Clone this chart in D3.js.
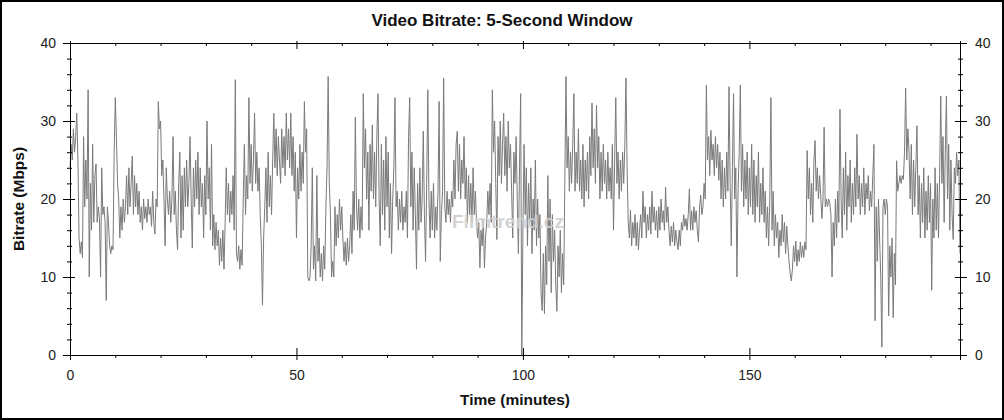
<!DOCTYPE html>
<html>
<head>
<meta charset="utf-8">
<script src="https://cdn.jsdelivr.net/npm/d3@7/dist/d3.min.js"></script>
<style>
  html, body { margin: 0; padding: 0; background: #fff; }
  svg { display: block; }
  text { font-family: Arial, "Liberation Sans", sans-serif; }
</style>
</head>
<body>
<svg id="chart" width="1004" height="420"></svg>
<script>
// ---- data ----
const chartTitle = "Video Bitrate: 5-Second Window";
const xLabel = "Time (minutes)";
const yLabel = "Bitrate (Mbps)";
const timeStepMin = 0.25;         // sample spacing in minutes
const xMaxMin = 196.5;            // end of the time axis
const xTickValues = [0, 50, 100, 150];
const yTickValues = [0, 10, 20, 30, 40];
// bitrate (Mbps) per quarter-minute sample (one row = 5 minutes)
const bitrate = [
  24, 27, 25, 29, 26, 28, 31, 25, 15, 13, 14.5, 12.5, 28, 19, 25, 20, 34, 10, 22, 16,
  27, 17, 23, 24.5, 17, 19, 17.5, 10, 24, 18, 19, 17, 7, 19, 17, 14, 13, 14, 13.5, 26,
  33, 28, 22, 20, 15, 19, 16, 20, 17, 19, 23, 18, 24, 19, 22, 25.5, 18, 23, 19, 22,
  18, 21, 17, 19, 16, 20, 17.5, 19, 17, 20, 18, 19, 16.5, 21, 17, 15.5, 20, 19, 32.5, 29,
  30, 23, 25, 20, 14, 24, 20, 18, 21, 17, 20, 28, 18, 21, 16, 13.5, 22, 26, 15, 23,
  16, 24, 19, 25, 19, 22, 28, 20, 13.7, 24, 19, 25, 20, 26, 18, 24, 19, 22, 15, 23,
  18, 30, 20, 24, 16, 27, 14, 18, 13.5, 17, 14, 16, 11.5, 15, 12, 16, 11, 17, 24, 18,
  22, 17, 21, 18, 23, 16, 35.3, 13, 12, 14, 11, 13.5, 11.5, 20, 27, 18, 23, 20, 33, 22,
  27, 21, 25, 31, 22, 26, 21, 24, 18, 14, 6.4, 15, 19, 24, 17, 26, 19, 23, 18, 25,
  31, 24, 29, 23, 28, 25, 22, 29, 24, 28, 23, 31, 25, 29, 24, 31, 23, 28, 21, 26,
  15, 24, 20, 27, 21, 26, 22, 32.5, 26, 29, 10, 9.5, 10, 14, 24, 11, 14, 9.5, 23, 12,
  15, 10, 13, 9.5, 14, 11, 19, 24, 35.7, 22, 18, 10, 12, 10, 19, 14, 18, 15, 20, 16,
  19, 15, 12, 14.5, 11.5, 15, 12, 14, 18, 13, 21, 16, 30.5, 19, 16, 20, 15, 19, 16, 33.5,
  24, 29, 20, 26, 16, 27, 21, 29.5, 20, 26, 19, 28, 33.5, 20, 14, 27, 18, 25, 16, 28,
  19, 26, 15, 22, 13, 20, 24, 33, 19, 21, 16, 20, 17, 21, 16, 19, 17, 21, 15, 28,
  33, 19, 26, 16, 24, 18, 11, 22, 16, 24, 17, 20, 28.7, 18, 12, 22, 34, 20, 15, 21,
  16, 22, 15, 19, 16, 21, 32.5, 12, 18, 21, 35.5, 19, 17, 21, 18, 20, 17, 21, 19, 25,
  20, 27, 28.7, 21, 27, 20, 25, 22, 28, 20, 24, 17, 23, 18, 22, 17, 24, 18, 21, 17,
  15, 17, 11.2, 16, 14, 17.4, 11.2, 15, 17, 21, 18, 22, 17, 34, 26, 30, 22, 14.8, 28, 23,
  30, 22, 27, 31, 23, 28, 21, 30, 24, 27, 21, 15, 26, 22, 28, 20, 13, 24, 33.5, 0,
  16, 27, 18, 24, 14, 22, 17, 24, 13, 20, 16, 25, 14, 20, 15, 18, 8, 5.7, 13, 5.3,
  14, 9, 23, 12, 20, 8, 18, 12, 16, 9, 5.6, 14, 10, 16, 8, 13, 9, 22, 35.7, 24,
  28, 21, 26, 22, 27, 33.5, 21, 26, 22, 29, 21, 25, 20, 27, 19, 25, 21, 26, 20, 28,
  23, 32.3, 24, 29, 22, 32, 24, 28, 20, 26, 21, 27, 22, 25, 20, 26, 21, 24, 20, 27,
  16, 25, 33, 22, 26, 20, 25, 21, 26, 22, 27, 35.5, 24, 17, 15, 18.6, 14, 17, 15, 18,
  14, 17, 13.5, 16, 18, 15, 21, 17, 19, 15, 18, 16, 19, 15.5, 21, 17, 19, 16, 18.5, 15,
  19, 16, 20, 17, 18.5, 16, 21.5, 17, 19, 16, 14, 16.5, 14.5, 17, 14, 16, 14.5, 13.5, 16, 14,
  17, 16, 18, 16.5, 17.5, 16, 18, 21.3, 16, 18.5, 16, 19, 17, 18.5, 16, 14.5, 19, 20.5, 18, 19,
  22, 20, 34.6, 25, 28, 23, 28.8, 25, 27, 23, 28, 24, 27, 22.4, 26, 20, 25, 19, 24, 20,
  26, 21, 34.4, 22, 14, 24, 33.5, 20, 24, 10, 21, 26, 34.6, 21, 27, 19, 25, 20, 26, 18,
  24, 19, 27, 18, 25, 17, 23, 19, 26, 17, 22, 18, 24, 17, 21, 15, 19, 14, 20, 33,
  16, 21, 14, 18, 15, 17, 12.5, 16, 14, 18, 14.5, 17, 13, 16.5, 14, 12, 10.5, 9.5, 11, 14,
  12, 14.6, 11.4, 13.5, 12, 14.5, 12.5, 14, 12.5, 14.5, 13.5, 26.2, 20, 24, 18, 22, 17, 25, 27.5, 21,
  24, 20, 23, 20.5, 17.5, 20, 29.2, 19, 20, 19, 20, 19.5, 18, 10, 17, 14, 20, 15, 21, 17,
  31.5, 20, 15, 24, 18, 26, 16, 23, 19, 25, 17, 22, 18, 24, 19, 28.3, 20, 23, 18, 22,
  19, 24, 18, 22, 20, 23, 18.5, 21, 19, 23, 27, 4.4, 19, 12, 20, 15, 10, 1, 19, 20,
  18, 20, 19, 5, 14, 10, 15, 4.8, 13, 9, 24.9, 21, 22, 23, 22, 23, 22.5, 26, 34.2, 25,
  29, 26, 20, 27, 18, 25, 19, 24, 29.4, 18, 23, 15, 22, 17, 24, 15, 21, 16, 23, 17,
  22, 8.3, 20, 15, 24, 16, 22, 15, 23, 33.2, 22, 28, 17, 26, 33.2, 20, 27, 16, 25, 18,
  14.8, 24, 22, 26, 23, 25, 13
];
const watermarkText = "Filmtrend.cz";

// ---- chart ----
const W = 1004, H = 420;
const svg = d3.select("#chart");
const plotLeft = 70, plotRight = 960, plotTop = 43, plotBottom = 355;

const x = d3.scaleLinear().domain([0, xMaxMin]).range([plotLeft, plotRight]);
const y = d3.scaleLinear().domain([0, 40]).range([plotBottom, plotTop]);

const series = bitrate.map((v, i) => ({ t: i * timeStepMin, v }));

// outer frame
svg.append("rect").attr("x", 1).attr("y", 1).attr("width", W - 2).attr("height", H - 2)
  .attr("fill", "#fff").attr("stroke", "#000").attr("stroke-width", 2);

// data line
const line = d3.line().x(d => x(d.t)).y(d => y(d.v));
svg.append("path").datum(series)
  .attr("d", line)
  .attr("fill", "none")
  .attr("stroke", "#7a7a7a")
  .attr("stroke-width", 1)
  .attr("stroke-linejoin", "miter");

// watermark
svg.append("text").attr("x", 452).attr("y", 228)
  .attr("font-size", 19).attr("font-weight", "bold")
  .attr("fill", "#cfcfcf").attr("opacity", 0.9)
  .text(watermarkText);

// axes
const minorX = d3.range(0, xMaxMin, 10).filter(v => !xTickValues.includes(v));
const minorY = d3.range(0, 40, 2).filter(v => !yTickValues.includes(v));
const axisColor = "#000";

// bottom axis
const gB = svg.append("g").attr("transform", `translate(0,${plotBottom})`)
  .call(d3.axisBottom(x).tickValues(xTickValues).tickSize(5).tickPadding(10).tickFormat(d3.format("d")));
gB.selectAll(".tick line").attr("y1", -7);
const gBm = svg.append("g").attr("transform", `translate(0,${plotBottom})`)
  .call(d3.axisBottom(x).tickValues(minorX).tickSize(3).tickFormat(""));
gBm.select(".domain").remove();
// top axis
const gT = svg.append("g").attr("transform", `translate(0,${plotTop})`)
  .call(d3.axisTop(x).tickValues(xTickValues).tickSize(2).tickFormat(""));
gT.selectAll(".tick line").attr("y1", 6);
const gTm = svg.append("g").attr("transform", `translate(0,${plotTop})`)
  .call(d3.axisTop(x).tickValues(minorX).tickSize(0).tickFormat(""));
gTm.select(".domain").remove();
gTm.selectAll(".tick line").attr("y2", 3);
// left axis
const gL = svg.append("g").attr("transform", `translate(${plotLeft},0)`)
  .call(d3.axisLeft(y).tickValues(yTickValues).tickSize(7).tickPadding(7).tickFormat(d3.format("d")));
gL.selectAll(".tick line").attr("x1", 5);
const gLm = svg.append("g").attr("transform", `translate(${plotLeft},0)`)
  .call(d3.axisLeft(y).tickValues(minorY).tickSize(3).tickFormat(""));
gLm.select(".domain").remove();
gLm.selectAll(".tick line").attr("x1", 2);
// right axis
const gR = svg.append("g").attr("transform", `translate(${plotRight},0)`)
  .call(d3.axisRight(y).tickValues(yTickValues).tickSize(7).tickPadding(8).tickFormat(d3.format("d")));
gR.selectAll(".tick line").attr("x1", -5);
const gRm = svg.append("g").attr("transform", `translate(${plotRight},0)`)
  .call(d3.axisRight(y).tickValues(minorY).tickSize(3).tickFormat(""));
gRm.select(".domain").remove();
gRm.selectAll(".tick line").attr("x1", -2);

svg.selectAll(".domain").attr("stroke", axisColor);
svg.selectAll(".tick line").attr("stroke", axisColor);
svg.selectAll(".tick text")
  .attr("font-family", "Arial, 'Liberation Sans', sans-serif")
  .attr("font-size", 14).attr("fill", "#222");

// titles
svg.append("text").attr("x", 502).attr("y", 26).attr("text-anchor", "middle")
  .attr("font-size", 17).attr("font-weight", "bold").attr("fill", "#111").text(chartTitle);
svg.append("text").attr("x", 515).attr("y", 405).attr("text-anchor", "middle")
  .attr("font-size", 15.5).attr("font-weight", "bold").attr("fill", "#111").text(xLabel);
svg.append("text").attr("transform", `translate(24,${(plotTop + plotBottom) / 2}) rotate(-90)`)
  .attr("text-anchor", "middle")
  .attr("font-size", 15.5).attr("font-weight", "bold").attr("fill", "#111").text(yLabel);
</script>
</body>
</html>
